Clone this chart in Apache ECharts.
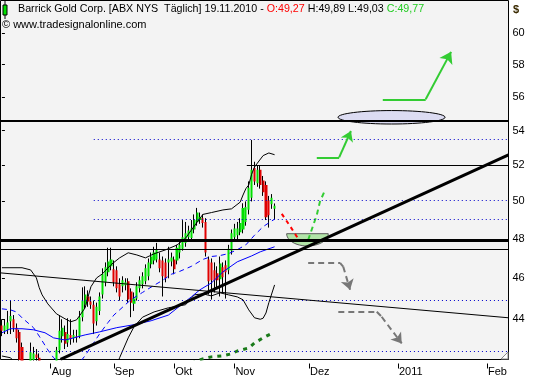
<!DOCTYPE html>
<html>
<head>
<meta charset="utf-8">
<script src="https://cdn.jsdelivr.net/npm/echarts@6/dist/echarts.min.js"></script>
<style>
html,body{margin:0;padding:0;background:#ffffff;}
#chart{width:533px;height:380px;}
</style>
</head>
<body>
<div id="chart"></div>
<script>
// ---------- dates (trading days, then calendar days of the projection area) ----------
const tradeMonths = [
  ['2010-07', [8,9,12,13,14,15,16,19,20,21,22,23,26,27,28,29,30]],
  ['2010-08', [2,3,4,5,6,9,10,11,12,13,16,17,18,19,20,23,24,25,26,27,30,31]],
  ['2010-09', [1,2,3,7,8,9,10,13,14,15,16,17,20,21,22,23,24,27,28,29,30]],
  ['2010-10', [1,4,5,6,7,8,11,12,13,14,15,18,19,20,21,22,25,26,27,28,29]],
  ['2010-11', [1,2,3,4,5,8,9,10,11,12,15,16,17,18,19]]
];
const futureDays = [['2010-11',20,30],['2010-12',1,31],['2011-01',1,31],['2011-02',1,8]];
const monthLabels = {'2010-08':'Aug','2010-09':'Sep','2010-10':'Okt','2010-11':'Nov','2010-12':'Dez','2011-01':'2011','2011-02':'Feb'};

// ---------- OHLC ----------
const opens  = [43.7,43.45,43.5,43.9,44.0,43.6,43.4,42.7,41.8,41.6,41.9,42.1,42.35,42.2,41.5,41.0,40.9,41.3,41.8,41.7,
  42.55,43.2,43.4,42.9,43.25,43.1,43.2,43.2,44.1,44.7,45.1,44.85,44.7,43.9,44.4,45.2,45.8,46.3,46.6,46.45,
  46.4,45.7,45.6,45.65,45.85,45.35,44.75,45.0,45.5,45.7,45.85,46.1,46.7,46.9,46.95,46.95,46.9,46.8,46.8,46.85,
  46.95,46.9,47.3,47.5,47.8,48.1,48.05,48.5,48.9,49.0,49.1,48.9,46.95,46.8,46.4,46.25,45.95,46.55,46.65,46.4,
  47.4,48.1,48.2,48.35,48.5,48.9,49.55,50.2,51.85,51.0,51.75,51.15,50.9,50.05,49.85,49.6];
const highs  = [44.0,44.0,44.4,44.9,44.2,43.8,43.5,42.9,42.0,42.05,42.9,42.7,42.6,42.4,41.7,41.3,41.6,42.05,42.0,42.7,
  44.2,44.0,43.7,44.05,44.0,43.5,43.5,44.4,45.55,45.6,45.4,45.1,44.9,44.8,45.3,46.5,46.8,47.55,47.55,46.9,
  46.6,46.0,46.1,46.0,46.0,45.5,45.3,45.8,46.1,46.3,46.7,47.0,47.3,47.6,47.8,47.3,47.1,47.0,47.6,47.3,
  47.1,47.7,48.0,49.0,48.9,48.7,49.0,49.3,49.65,49.4,49.3,49.1,47.1,47.0,46.8,46.6,47.1,46.8,46.9,47.7,
  48.5,48.8,48.9,49.1,49.9,50.0,51.1,53.45,52.2,52.0,52.0,51.4,51.1,50.3,50.4,49.89];
const lows   = [43.2,43.3,43.3,43.3,43.4,42.9,41.9,41.6,41.3,41.4,41.8,41.9,42.0,41.4,40.9,40.5,40.7,41.1,41.4,41.6,
  42.4,42.9,42.6,42.7,42.8,42.9,42.9,43.1,43.9,44.5,44.6,44.5,43.3,43.7,44.2,45.0,45.6,46.1,46.4,45.6,
  45.3,44.9,45.3,45.4,44.8,44.1,44.4,44.9,45.3,45.5,45.7,45.9,46.5,46.7,46.8,46.3,45.1,45.8,46.0,46.6,
  46.2,46.7,47.0,47.4,47.6,47.9,47.9,48.3,48.7,48.8,48.6,47.1,45.2,44.95,45.3,45.5,45.1,45.3,45.0,46.2,
  47.2,47.9,48.0,48.2,48.3,48.7,49.3,50.0,50.9,50.8,50.7,50.3,49.0,48.6,49.6,49.03];
const closes = [43.45,43.7,43.85,44.15,43.6,43.1,42.1,41.8,41.6,41.9,42.45,42.4,42.2,41.6,41.1,40.8,41.3,41.9,41.7,42.55,
  43.45,43.6,42.85,43.3,43.05,43.25,43.15,44.1,44.9,45.2,44.85,44.7,43.8,44.6,45.1,46.2,46.55,46.85,46.95,45.8,
  45.5,45.1,45.9,45.8,44.95,44.8,45.0,45.6,45.9,46.1,46.5,46.8,47.1,47.3,47.45,46.5,46.1,46.0,46.95,47.05,
  46.45,47.55,47.7,48.1,48.3,48.45,48.55,49.0,49.4,49.15,48.85,47.3,45.85,45.9,45.9,45.9,46.75,46.05,46.3,47.5,
  48.3,48.55,48.55,48.85,49.65,49.7,50.75,51.75,51.1,51.75,50.9,50.5,49.15,49.25,50.2,49.77];

// ---------- indicator lines: [slot, price] ----------
const sma50 = [[0,43.36],[3,43.55],[7,43.55],[11,43.5],[15,43.36],[18,43.12],[22,43.02],[25,43.12],[29,43.26],[34,43.4],
  [40,43.6],[46,43.74],[52,43.93],[58,44.2],[63,44.75],[66,45.08],[69,45.43],[73,45.77],[77,46.32],[82,46.83],[87,47.13],[90,47.34],[95,47.6]];
const sma20 = [[0,44.5],[3,44.45],[5,44.35],[7,44.07],[11,43.6],[13,43.2],[16,42.56],[18,42.2],[22,41.8],[26,41.8],[29,42.3],
  [32,42.9],[34,43.3],[37,43.85],[39,44.2],[43,44.7],[45,44.95],[49,45.3],[53,45.65],[56,45.9],[59,46.2],[62,46.35],[66,46.6],
  [70,46.95],[73,47.1],[76,47.15],[79,47.25],[82,47.45],[85,47.7],[88,48.2],[91,48.65],[93,48.85],[95,49.05]];
const upperBand = [[0,46.53],[7,46.53],[10,46.42],[12,46.02],[13,45.53],[14,45.18],[16,44.74],[19,44.26],[22,44.02],[24,43.88],
  [26,43.97],[27,44.16],[29,44.55],[30,45.08],[31,45.58],[33,46.02],[35,46.22],[38,46.68],[41,47.03],[44,47.29],[47,47.18],
  [50,47.03],[53,47.24],[57,47.44],[61,47.69],[64,48.05],[66,48.47],[70,49.3],[73,49.4],[77,49.54],[80,49.6],[83,49.96],
  [84,50.35],[85,50.7],[86,50.9],[87,51.5],[88,51.9],[89,52.12],[91,52.55],[93,52.7],[95,52.6]];
const lowerBand = [[0,42.28],[3,42.2],[5,41.9],[8,41.5],[20,40.5],[35,40.8],[39,41.5],[41,42.2],[44,43.12],[46,43.64],[49,44.1],
  [53,44.35],[58,44.55],[64,44.7],[67,45.18],[70,45.23],[73,45.13],[76,45.28],[79,45.18],[82,45.08],[84,44.94],[86,44.45],
  [88,44.07],[90,44.0],[91,44.05],[92,44.3],[93,44.8],[95,45.67]];
const longAvg = [[66,41.95],[70,42.15],[73,42.24],[77,42.29],[80,42.38],[82,42.51],[86,42.65],[88,42.88],[91,43.12],[94,43.33]];

// ---------- axis ----------
const yTicks = [44,46,48,50,52,54,56,58,60];
const yMin = 42.12, yMax = 62.18;

// ---------- drawings ----------
const thickLevels = [54.78, 48.1];
const thinLevels = [47.32];
const level52 = [[85.3,52.0],[176.5,52.0]];
const dottedLevels = [[32,53.47],[32,50.05],[32,49.04],[0,44.94],[0,42.48]];
const riseTrend = [[20.4,42.13],[176.5,52.59]];
const fallTrend = [[-0.5,46.27],[176.5,44.07]];
const arrowUpBig = [[132.7,55.86],[147.65,55.86],[156.5,58.81]];
const arrowUpSmall = [[109.7,52.45],[117.5,52.45],[121.6,53.97]];
const arrowDown1 = [[106.7,46.78],[117.8,46.78],[118.9,46.59],[121.3,45.43]];
const arrowDown2 = [[117.2,44.36],[130.6,44.36],[132.3,44.12],[139.3,42.86]];
const redPath = [[97.5,49.33],[100.6,48.63],[103.05,48.06]];
const greenPath = [[106.7,47.95],[108.5,48.74],[109.7,49.27],[110.8,49.99],[112.6,50.62]];
const ellipseZone = {x0:117.1, x1:154.4, top:55.18, mid:54.78, bottom:54.38};
const bowlZone = {x0:99.2, x1:113.7, top:48.28, bottom:47.64};

const headerParts = [['Barrick Gold Corp. [ABX NYS  T\u00e4glich] 19.11.2010 - ','k'],['O:49,27','r'],[' H:49,89 L:49,03 ','k'],['C:49,77','g']];
const copyrightText = '\u00a9 www.tradesignalonline.com';

// ---------- build ----------
const L = Math.log;
const categories = [];
tradeMonths.forEach(([m, days]) => days.forEach(d => categories.push(m + '-' + String(d).padStart(2,'0'))));
futureDays.forEach(([m, a, b]) => { for (let d = a; d <= b; d++) categories.push(m + '-' + String(d).padStart(2,'0')); });
const isMonthStart = idx => idx > 0 && categories[idx].slice(0,7) !== categories[idx-1].slice(0,7);

const candleData = opens.map((o, i) => [L(o), L(closes[i]), L(lows[i]), L(highs[i])]);
const FONT = 'Liberation Sans';

function pathSeries(points, color, width, dash) {
  return {type:'line', xAxisIndex:1, yAxisIndex:0, data: points.map(p => [p[0], L(p[1])]),
    symbol:'none', silent:true, lineStyle:{color:color, width:width, type:dash}, animation:false, clip:true};
}
function segs(points, style, arrowSize) {
  const out = [];
  for (let k = 0; k < points.length - 1; k++) {
    const last = k === points.length - 2;
    out.push([
      {coord:[points[k][0], L(points[k][1])], symbol:'none', lineStyle:style},
      {coord:[points[k+1][0], L(points[k+1][1])], symbol: (last && arrowSize) ? 'arrow' : 'none', symbolSize: arrowSize || 1, lineStyle:style}
    ]);
  }
  return out;
}
function helper(markData, z) {
  return {type:'line', xAxisIndex:1, yAxisIndex:0, data:[[0, L(50)]], symbol:'none', lineStyle:{opacity:0}, silent:true, z:z,
    markLine:{silent:true, symbol:['none','none'], label:{show:false}, emphasis:{disabled:true}, animation:false, data:markData}};
}

const dottedStyle = {color:'#0000cc', width:1, type:[1,3]};
const belowMarks = dottedLevels.map(([s, v]) => [
  {coord:[s, L(v)], lineStyle:dottedStyle}, {coord:[176.5, L(v)], lineStyle:dottedStyle}]);

const blk = w => ({color:'#000', width:w, type:'solid'});
const aboveMarks = []
  .concat(thickLevels.map((v, k) => ({yAxis:L(v), lineStyle:blk(k === 0 ? 2 : 3)})))
  .concat(thinLevels.map(v => ({yAxis:L(v), lineStyle:blk(1)})))
  .concat(segs(level52, blk(1)))
  .concat(segs(riseTrend, blk(3)))
  .concat(segs(fallTrend, blk(1)))
  .concat(segs(arrowUpBig, {color:'#33cc33', width:2, type:'solid'}, 11))
  .concat(segs(arrowUpSmall, {color:'#33cc33', width:2, type:'solid'}, 10))
  .concat(segs(arrowDown1, {color:'#777777', width:2, type:[6,4]}, 10))
  .concat(segs(arrowDown2, {color:'#777777', width:2, type:[6,4]}, 10));

const option = {
  animation:false,
  backgroundColor:'#ffffff',
  grid:{left:0.5, right:24.5, top:0.5, bottom:20.5, show:true, backgroundColor:'#f3f3f3', borderColor:'#000', borderWidth:1},
  xAxis:[
    {type:'category', data:categories, boundaryGap:true, offset:4, z:6,
      axisLine:{show:false}, splitLine:{show:false},
      axisTick:{show:true, alignWithLabel:true, interval:(i) => isMonthStart(i), length:5, lineStyle:{color:'#000'}},
      axisLabel:{interval:(i) => isMonthStart(i),
        formatter:(v, i) => isMonthStart(i) ? (monthLabels[v.slice(0,7)] || '') : '',
        align:'left', margin:3, padding:[0,0,0,1], color:'#000', fontFamily:FONT, fontSize:11}},
    {type:'value', min:-0.5, max:categories.length - 0.5, show:false}
  ],
  yAxis:{type:'value', position:'right', min:L(yMin), max:L(yMax), offset:2, z:6,
    axisLine:{show:false}, splitLine:{show:false},
    axisTick:{show:true, length:3, customValues:yTicks.map(L), lineStyle:{color:'#000'}},
    axisLabel:{customValues:yTicks.map(L), formatter:v => String(Math.round(Math.exp(v))), margin:2, color:'#000', fontFamily:FONT, fontSize:11}},
  series:[
    helper(belowMarks, 1),
    pathSeries(upperBand, '#000000', 1, 'solid'),
    pathSeries(lowerBand, '#000000', 1, 'solid'),
    pathSeries(sma50, '#0000ff', 1, 'solid'),
    pathSeries(sma20, '#0000ff', 1, [5,4]),
    {type:'candlestick', xAxisIndex:0, yAxisIndex:0, data:candleData, barWidth:1, clip:true, silent:true,
      itemStyle:{color:'#000', color0:'#000', borderColor:'#000', borderColor0:'#000', borderWidth:1}},
    {type:'candlestick', xAxisIndex:0, yAxisIndex:0, data:candleData, barWidth:2.6, clip:true, silent:true,
      itemStyle:{color:'#00e000', color0:'#e00000', borderColor:'#00e000', borderColor0:'#e00000', borderWidth:0}},
    pathSeries(longAvg, '#1a7a1a', 3, [4,5]),
    pathSeries(redPath, '#ff0000', 2, [4,4]),
    pathSeries(greenPath, '#33cc33', 2, [5,4]),
    helper(aboveMarks, 3)
  ]
};

const chart = echarts.init(document.getElementById('chart'), null, {renderer:'canvas'});
chart.setOption(option);

// ---------- drawn shapes placed through the chart's own coordinate conversion ----------
const px = (x, p) => chart.convertToPixel({xAxisIndex:1, yAxisIndex:0}, [x, L(p)]);
const eL = px(ellipseZone.x0, ellipseZone.mid), eR = px(ellipseZone.x1, ellipseZone.mid);
const eT = px(ellipseZone.x0, ellipseZone.top), eB = px(ellipseZone.x0, ellipseZone.bottom);
const bL = px(bowlZone.x0, bowlZone.top), bR = px(bowlZone.x1, bowlZone.top), bB = px(bowlZone.x0, bowlZone.bottom);
const bcx = (bL[0] + bR[0]) / 2, brx = (bR[0] - bL[0]) / 2, bry = bB[1] - bL[1];
const bowlPts = [];
for (let k = 0; k <= 24; k++) { const t = Math.PI * k / 24; bowlPts.push([bcx + brx * Math.cos(t), bL[1] + bry * Math.sin(t)]); }
const plotBottom = px(0, yMin)[1];

const richStyles = {
  k:{fill:'#000000', fontSize:10.7, fontFamily:FONT},
  r:{fill:'#ff0000', fontSize:10.7, fontFamily:FONT},
  g:{fill:'#22cc22', fontSize:10.7, fontFamily:FONT}
};
chart.setOption({graphic:[
  {type:'ellipse', z:1, silent:true, shape:{cx:(eL[0] + eR[0]) / 2, cy:eL[1], rx:(eR[0] - eL[0]) / 2, ry:(eB[1] - eT[1]) / 2},
    style:{fill:'#dcdcf2', stroke:'#000', lineWidth:1}},
  {type:'polygon', z:1, silent:true, shape:{points:bowlPts}, style:{fill:'#b2e4a8', stroke:'#5a5a5a', lineWidth:1}},
  {type:'rect', z:5, silent:true, shape:{x:0, y:Math.ceil(plotBottom) + 0.5, width:533, height:30}, style:{fill:'#ffffff'}},
  {type:'text', z:10, silent:true, x:18, y:4, style:{text:headerParts.map(([t, s]) => '{' + s + '|' + t + '}').join(''), rich:richStyles, fontSize:10.7, fontFamily:FONT, textVerticalAlign:'top'}},
  {type:'text', z:10, silent:true, x:2, y:19, style:{text:copyrightText, fill:'#000', fontSize:11, fontFamily:FONT, textVerticalAlign:'top'}},
  {type:'text', z:10, silent:true, x:513, y:4, style:{text:'$', fill:'#3a2a00', fontSize:11, fontWeight:'bold', fontFamily:FONT, textVerticalAlign:'top'}},
  {type:'line', z:10, silent:true, shape:{x1:5, y1:1, x2:5, y2:19}, style:{stroke:'#000', lineWidth:1}},
  {type:'rect', z:10, silent:true, shape:{x:3, y:5, width:4, height:10}, style:{fill:'#00e000', stroke:'#000', lineWidth:1}},
  {type:'polygon', z:10, silent:true, shape:{points:[[501,359],[508,352],[508,359]]}, style:{fill:'#ffffff', stroke:'#888', lineWidth:1}}
]});
</script>
</body>
</html>
